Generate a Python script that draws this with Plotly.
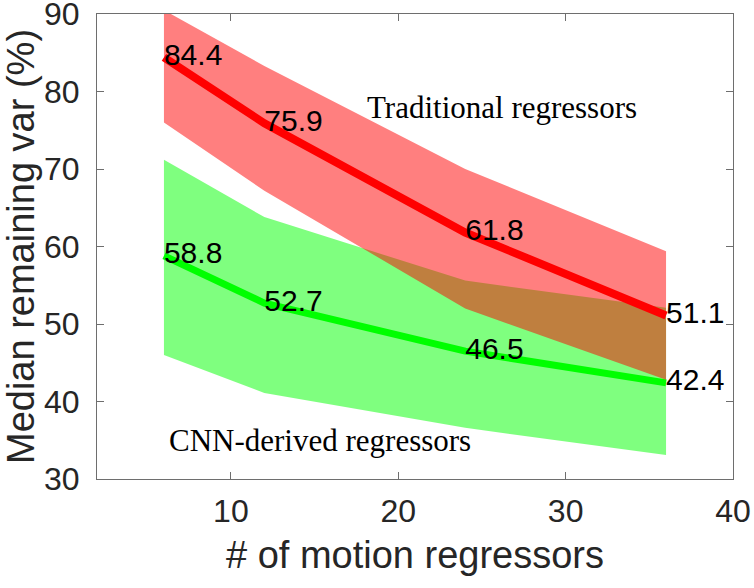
import plotly.graph_objects as go

# Data
n_regressors = [6, 12, 24, 36]
trad_median = [84.4, 75.9, 61.8, 51.1]
trad_upper = [90.5, 83.3, 70.0, 59.4]
trad_lower = [76.0, 67.2, 52.0, 42.8]
cnn_median = [58.8, 52.7, 46.5, 42.4]
cnn_upper = [71.2, 63.8, 55.6, 52.1]
cnn_lower = [46.0, 41.1, 36.6, 33.1]
trad_labels = ["84.4", "75.9", "61.8", "51.1"]
cnn_labels = ["58.8", "52.7", "46.5", "42.4"]

x_ticks = [10, 20, 30, 40]
y_ticks = [30, 40, 50, 60, 70, 80, 90]

fig = go.Figure()

def band(x, lo, hi, color):
    return go.Scatter(x=list(x) + list(x)[::-1], y=list(hi) + list(lo)[::-1],
                      fill="toself", fillcolor=color, line=dict(width=0),
                      mode="lines", hoverinfo="skip", showlegend=False)

# green band and line first (under red band)
fig.add_trace(band(n_regressors, cnn_lower, cnn_upper, "rgba(0,255,0,0.5)"))
fig.add_trace(go.Scatter(x=n_regressors, y=cnn_median, mode="lines",
                         line=dict(color="rgb(0,255,0)", width=7), showlegend=False))
fig.add_trace(band(n_regressors, trad_lower, trad_upper, "rgba(255,0,0,0.5)"))
fig.add_trace(go.Scatter(x=n_regressors, y=trad_median, mode="lines",
                         line=dict(color="rgb(255,0,0)", width=8), showlegend=False))

label_font = dict(family="Liberation Sans, Arial", size=30, color="black")
fig.add_trace(go.Scatter(x=n_regressors, y=trad_median, mode="text", text=trad_labels,
                         textposition="middle right", textfont=label_font,
                         showlegend=False, cliponaxis=False))
fig.add_trace(go.Scatter(x=n_regressors, y=cnn_median, mode="text", text=cnn_labels,
                         textposition="middle right", textfont=label_font,
                         showlegend=False, cliponaxis=False))

serif = dict(family="Liberation Serif, Times New Roman", size=31, color="black")
fig.add_annotation(x=18, y=78, text="Traditional regressors", showarrow=False,
                   xanchor="left", yanchor="middle", font=serif)
fig.add_annotation(x=6.2, y=35, text="CNN-derived regressors", showarrow=False,
                   xanchor="left", yanchor="middle", font=serif)

axis_common = dict(showgrid=False, zeroline=False, showline=True, linecolor="#6e6e6e",
                   linewidth=1, mirror="ticks", ticks="inside", ticklen=7,
                   tickcolor="#6e6e6e", automargin=False, ticklabeloverflow="allow",
                   tickfont=dict(family="Liberation Sans, Arial", size=32, color="#262626"))

fig.update_xaxes(range=[2, 40], tickvals=x_ticks, ticklabelstandoff=4,
                 title=dict(text="# of motion regressors", standoff=12,
                            font=dict(family="Liberation Sans, Arial", size=38, color="#262626")),
                 **axis_common)
fig.update_yaxes(range=[30, 90], tickvals=y_ticks, ticklabelstandoff=10,
                 title=dict(text="Median remaining var (%)", standoff=0,
                            font=dict(family="Liberation Sans, Arial", size=38, color="#262626")),
                 **axis_common)

fig.update_layout(width=754, height=588, margin=dict(l=97, r=21, t=14, b=109),
                  plot_bgcolor="white", paper_bgcolor="white", showlegend=False)

fig.write_html("out.html", config={"displayModeBar": False},
               post_script="document.body.style.margin='0';document.body.style.overflow='hidden';")
